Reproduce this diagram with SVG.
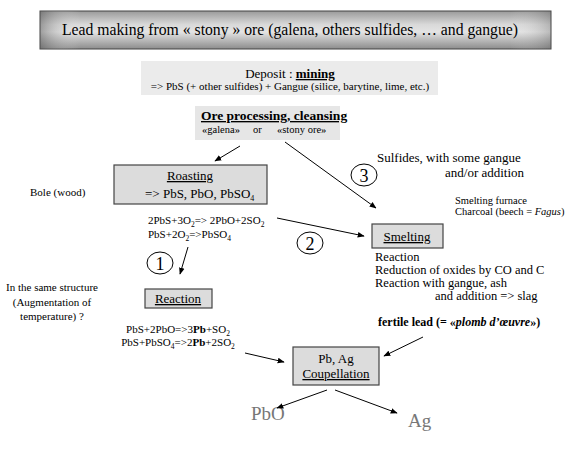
<svg xmlns="http://www.w3.org/2000/svg" width="580" height="450" viewBox="0 0 580 450">
<defs>
<linearGradient id="tg" x1="0" y1="0" x2="0" y2="1">
<stop offset="0" stop-color="#9a9a9a"/>
<stop offset="0.35" stop-color="#d8d8d8"/>
<stop offset="0.55" stop-color="#e4e4e4"/>
<stop offset="1" stop-color="#8c8c8c"/>
</linearGradient>
<linearGradient id="th" x1="0" y1="0" x2="1" y2="0">
<stop offset="0" stop-color="#555" stop-opacity="0.5"/>
<stop offset="0.08" stop-color="#fff" stop-opacity="0"/>
<stop offset="0.92" stop-color="#fff" stop-opacity="0"/>
<stop offset="1" stop-color="#555" stop-opacity="0.3"/>
</linearGradient>
<marker id="ah" viewBox="0 0 10 10" refX="9" refY="5" markerWidth="7" markerHeight="7" orient="auto" markerUnits="userSpaceOnUse">
<path d="M0,1 L10,5 L0,9 z" fill="#000"/>
</marker>
</defs>
<style>
text, tspan{font-family:'Liberation Serif','Times New Roman',serif}
.box{fill:#dcdcdc;stroke:#444;stroke-width:1.2}
.lbl{font-size:13px}
.sm{font-size:11px}
.u{text-decoration:underline}
.ar{stroke:#000;stroke-width:1;fill:none;marker-end:url(#ah)}
.circ{fill:none;stroke:#000;stroke-width:1}
.num{font-size:18px;text-anchor:middle}
.mid{text-anchor:middle}
</style>
<rect width="580" height="450" fill="#fff"/>
<g font-family="Liberation Serif, Times New Roman, serif" fill="#000">

<g id="title">
<rect x="40" y="11" width="511" height="38" fill="url(#tg)" stroke="#444" stroke-width="1"/>
<rect x="40" y="11" width="511" height="38" fill="url(#th)"/>
<text x="290" y="35" class="mid" font-size="17" textLength="456" lengthAdjust="spacingAndGlyphs">Lead making from « stony » ore (galena, others sulfides, … and gangue)</text>
</g>

<g id="deposit">
<rect x="141" y="61" width="297" height="34" fill="#ebebeb"/>
<text x="290" y="78" class="mid" font-size="13">Deposit : <tspan font-weight="bold" class="u">mining</tspan></text>
<text x="290" y="90" class="mid" font-size="11">=&gt; PbS (+ other sulfides) + Gangue (silice, barytine, lime, etc.)</text>
</g>

<g id="ore">
<rect x="195" y="106" width="145" height="34" fill="#e6e6e6"/>
<text x="201" y="120" font-size="13.5" font-weight="bold" class="u">Ore processing, cleansing</text>
<text y="133" font-size="10.5"><tspan x="202">«galena»</tspan><tspan x="253">or</tspan><tspan x="277">«stony ore»</tspan></text>
</g>

<g id="roasting">
<rect x="114" y="165" width="153" height="39" class="box"/>
<text x="190" y="180" class="lbl mid u">Roasting</text>
<text x="145" y="198" class="lbl">=&gt;  PbS, PbO, PbSO<tspan font-size="8" dy="3">4</tspan></text>
</g>

<g id="bole">
<text x="30" y="196" class="sm">Bole (wood)</text>
</g>

<g id="roast-eq">
<text x="148" y="224" class="sm">2PbS+3O<tspan font-size="7.5" dy="2.5">2</tspan><tspan dy="-2.5">=&gt; 2PbO+2SO</tspan><tspan font-size="7.5" dy="2.5">2</tspan></text>
<text x="148" y="238" class="sm">PbS+2O<tspan font-size="7.5" dy="2.5">2</tspan><tspan dy="-2.5">=&gt;PbSO</tspan><tspan font-size="7.5" dy="2.5">4</tspan></text>
</g>

<g id="circle1">
<ellipse cx="160" cy="263" rx="13" ry="11" class="circ"/>
<text x="160" y="270" class="num">1</text>
</g>

<g id="reaction">
<rect x="145" y="289" width="67" height="19" class="box"/>
<text x="178" y="303" class="lbl mid u">Reaction</text>
</g>

<g id="reaction-eq">
<text x="178" y="333" class="sm mid">PbS+2PbO=&gt;3<tspan font-weight="bold">Pb</tspan>+SO<tspan font-size="7.5" dy="2.5">2</tspan></text>
<text x="178" y="346" class="sm mid">PbS+PbSO<tspan font-size="7.5" dy="2.5">4</tspan><tspan dy="-2.5">=&gt;2</tspan><tspan font-weight="bold">Pb</tspan>+2SO<tspan font-size="7.5" dy="2.5">2</tspan></text>
</g>

<g id="same-structure">
<text x="52" y="291" class="sm mid">In the same structure</text>
<text x="52" y="306" class="sm mid">(Augmentation of</text>
<text x="52" y="320" class="sm mid">temperature) ?</text>
</g>

<g id="sulfides">
<text x="377" y="162" font-size="13">Sulfides, with some gangue</text>
<text x="445" y="177" font-size="13">and/or addition</text>
</g>

<g id="circle3">
<ellipse cx="364" cy="175" rx="13" ry="11" class="circ"/>
<text x="364" y="182" class="num">3</text>
</g>

<g id="circle2">
<ellipse cx="310" cy="243" rx="13" ry="11" class="circ"/>
<text x="310" y="250" class="num">2</text>
</g>

<g id="furnace">
<text x="455" y="204" font-size="10.5">Smelting furnace</text>
<text x="455" y="215" font-size="10.5">Charcoal (beech = <tspan font-style="italic">Fagus</tspan>)</text>
</g>

<g id="smelting">
<rect x="372" y="224" width="71" height="24" class="box"/>
<text x="407" y="241" class="lbl mid u">Smelting</text>
</g>

<g id="smelt-reaction">
<text x="375" y="261" font-size="12.5">Reaction</text>
<text x="375" y="274" font-size="12.5">Reduction of oxides by CO and C</text>
<text x="375" y="287" font-size="12.5">Reaction with gangue, ash</text>
<text x="435" y="300" font-size="12.5">and addition =&gt; slag</text>
</g>

<g id="fertile">
<text x="378" y="326" font-size="12" font-weight="bold">fertile lead (= «<tspan font-style="italic">plomb d’œuvre</tspan>»)</text>
</g>

<g id="coupellation">
<rect x="293" y="347" width="86" height="38" class="box"/>
<text x="336" y="363" class="lbl mid">Pb, Ag</text>
<text x="336" y="378" class="lbl mid u">Coupellation</text>
</g>

<g id="pbo">
<text x="251" y="420" font-size="19" fill="#777">PbO</text>
</g>
<g id="ag">
<text x="408" y="427" font-size="19" fill="#777">Ag</text>
</g>

</g>
<g id="connectors">
<line x1="240" y1="146" x2="215" y2="161" class="ar"/>
<line x1="285" y1="142" x2="376" y2="208" class="ar"/>
<line x1="277" y1="218" x2="364" y2="236" class="ar"/>
<line x1="188" y1="247" x2="180" y2="274" class="ar"/>
<line x1="245" y1="353" x2="284" y2="362" class="ar"/>
<line x1="423" y1="337" x2="384" y2="356" class="ar"/>
<line x1="327" y1="390" x2="277" y2="408" class="ar"/>
<line x1="335" y1="390" x2="397" y2="413" class="ar"/>
</g>
</svg>
